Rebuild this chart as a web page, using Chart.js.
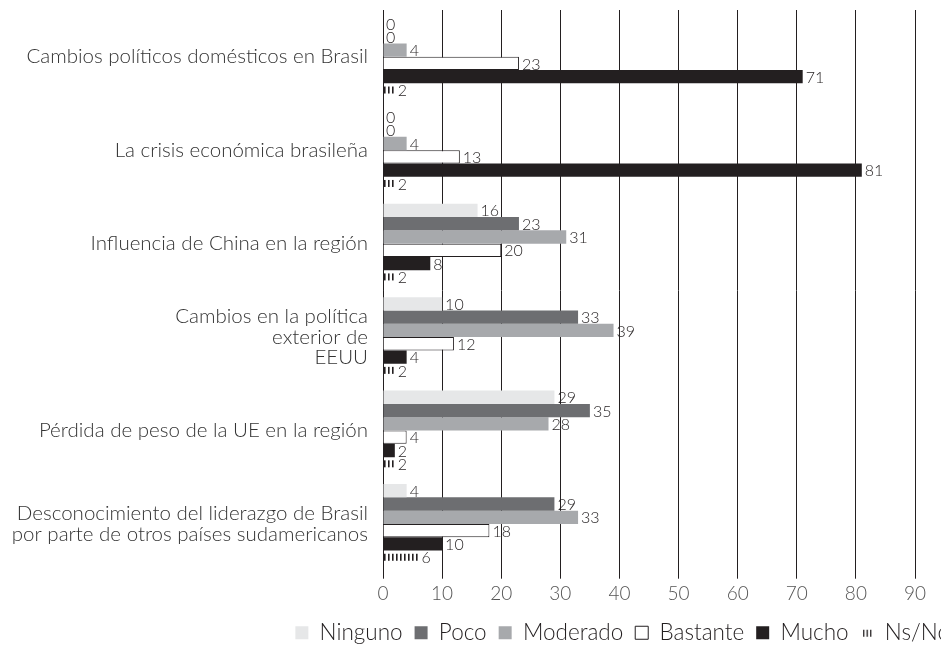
<!DOCTYPE html>
<html>
<head>
<meta charset="utf-8">
<script src="https://cdn.jsdelivr.net/npm/chart.js@4.4.1/dist/chart.umd.min.js"></script>
<style>
  html, body { margin: 0; padding: 0; background: #fff; overflow: hidden; }
  #wrap { width: 960px; height: 645px; }
</style>
</head>
<body>
<div id="wrap"><canvas id="chart"></canvas></div>
<script>
const categories = [
    'Cambios políticos domésticos en Brasil',
    'La crisis económica brasileña',
    'Influencia de China en la región',
    ['Cambios en la política', 'exterior de', 'EEUU'],
    'Pérdida de peso de la UE en la región',
    ['Desconocimiento del liderazgo de Brasil', 'por parte de otros países sudamericanos']
];
const seriesNames = ['Ninguno', 'Poco', 'Moderado', 'Bastante', 'Mucho', 'Ns/Nc'];
const ninguno = [0, 0, 16, 10, 29, 4];
const poco = [0, 0, 23, 33, 35, 29];
const moderado = [4, 4, 31, 39, 28, 33];
const bastante = [23, 13, 20, 12, 4, 18];
const mucho = [71, 81, 8, 4, 2, 10];
const nsnc = [2, 2, 2, 2, 2, 6];
const xTicks = [0, 10, 20, 30, 40, 50, 60, 70, 80, 90];

const ink = '#231f20';
const fontFamily = 'Lato, "Open Sans", sans-serif';

// small striped icon for the Ns/Nc legend entry
const stripeIcon = document.createElement('canvas');
stripeIcon.width = 10;
stripeIcon.height = 12;
(function () {
    const c = stripeIcon.getContext('2d');
    c.fillStyle = ink;
    for (let x = 1; x < 10; x += 3.5) {
        c.fillRect(x, 3, 1.3, 7);
    }
})();

// Ns/Nc bars are drawn as short vertical stripes
const stripesPlugin = {
    id: 'stripes',
    afterDatasetsDraw(chart) {
        const ctx = chart.ctx;
        const meta = chart.getDatasetMeta(5);
        ctx.save();
        ctx.fillStyle = ink;
        meta.data.forEach(function (bar) {
            const start = Math.min(bar.base, bar.x);
            const end = Math.max(bar.base, bar.x);
            for (let x = start + 0.5; x < end; x += 4) {
                ctx.fillRect(x, bar.y - 3.5, 1.6, 7);
            }
        });
        ctx.restore();
    }
};

// value labels at the end of each bar
const valueLabels = {
    id: 'valueLabels',
    afterDatasetsDraw(chart) {
        const ctx = chart.ctx;
        ctx.save();
        ctx.font = '300 16px ' + fontFamily;
        ctx.fillStyle = ink;
        ctx.textAlign = 'left';
        ctx.textBaseline = 'middle';
        chart.data.datasets.forEach(function (ds, i) {
            chart.getDatasetMeta(i).data.forEach(function (bar, j) {
                ctx.fillText(String(ds.data[j]), bar.x + 3, bar.y + 1);
            });
        });
        ctx.restore();
    }
};

new Chart(document.getElementById('chart'), {
    type: 'bar',
    data: {
        labels: categories,
        datasets: [
            { label: seriesNames[0], data: ninguno, backgroundColor: '#e6e7e8' },
            { label: seriesNames[1], data: poco, backgroundColor: '#6d6e71' },
            { label: seriesNames[2], data: moderado, backgroundColor: '#a7a9ac' },
            { label: seriesNames[3], data: bastante, backgroundColor: '#ffffff', borderColor: ink, borderWidth: 1 },
            { label: seriesNames[4], data: mucho, backgroundColor: ink },
            { label: seriesNames[5], data: nsnc, backgroundColor: 'rgba(0,0,0,0)' }
        ]
    },
    options: {
        indexAxis: 'y',
        responsive: true,
        maintainAspectRatio: false,
        animation: false,
        categoryPercentage: 0.855,
        barPercentage: 1,
        layout: { padding: { top: 10, right: 0, bottom: -9, left: 0 } },
        plugins: {
            tooltip: { enabled: false },
            legend: {
                position: 'bottom',
                align: 'end',
                labels: {
                    usePointStyle: true,
                    boxHeight: 13,
                    boxWidth: 13,
                    padding: 12,
                    color: ink,
                    font: { family: fontFamily, size: 22.5, weight: 300 },
                    generateLabels(chart) {
                        return chart.data.datasets.map(function (ds, i) {
                            return {
                                text: ds.label,
                                datasetIndex: i,
                                fillStyle: ds.backgroundColor,
                                strokeStyle: ink,
                                lineWidth: i === 3 ? 1 : 0,
                                pointStyle: i === 5 ? stripeIcon : 'rect',
                                hidden: false,
                                fontColor: ink
                            };
                        });
                    }
                }
            }
        },
        scales: {
            x: {
                min: 0,
                max: 90,
                z: 1,
                afterBuildTicks(scale) {
                    scale.ticks = xTicks.map(v => ({ value: v }));
                },
                afterFit(scale) { scale.paddingRight = 45; },
                grid: { color: ink, lineWidth: 1, tickLength: 8, drawTicks: true },
                border: { display: false },
                ticks: {
                    color: '#555',
                    padding: 4,
                    font: { family: fontFamily, size: 19, weight: 300 }
                }
            },
            y: {
                afterFit(scale) {
                    scale.width = 383;
                    scale.paddingTop = 0;
                    scale.paddingBottom = 0;
                },
                grid: { display: false, drawTicks: false },
                border: { display: true, color: ink, width: 1 },
                ticks: {
                    color: '#333',
                    padding: 15,
                    font: { family: fontFamily, size: 20.5, weight: 300, lineHeight: 1.0 }
                }
            }
        }
    },
    plugins: [stripesPlugin, valueLabels]
});
</script>
</body>
</html>
